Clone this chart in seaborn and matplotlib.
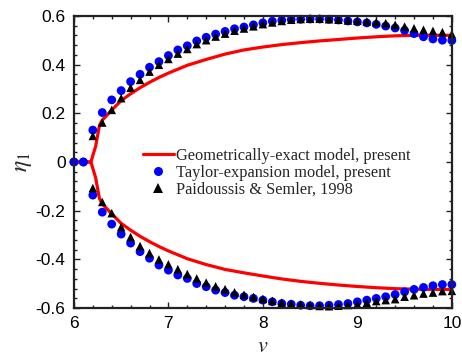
import numpy as np
import pandas as pd
import matplotlib
matplotlib.use("Agg")
import matplotlib.pyplot as plt
from matplotlib.ticker import MultipleLocator
from matplotlib.lines import Line2D
import seaborn as sns

# ---------------- data ----------------
v_pts = [round(6.0 + 0.1 * i, 1) for i in range(41)]

taylor_upper = [0.0, 0.0, 0.131, 0.203, 0.255, 0.293, 0.330, 0.360, 0.389, 0.412,
                0.437, 0.460, 0.477, 0.497, 0.512, 0.525, 0.536, 0.547, 0.554, 0.563,
                0.571, 0.578, 0.582, 0.585, 0.586, 0.587, 0.587, 0.586, 0.583, 0.579,
                0.575, 0.571, 0.565, 0.558, 0.550, 0.540, 0.527, 0.514, 0.505, 0.500, 0.499]
taylor_lower = [0.0, 0.0, -0.136, -0.206, -0.255, -0.296, -0.333, -0.368, -0.395, -0.423,
                -0.444, -0.464, -0.478, -0.499, -0.512, -0.526, -0.536, -0.547, -0.553, -0.560,
                -0.567, -0.574, -0.581, -0.584, -0.588, -0.590, -0.590, -0.588, -0.585, -0.581,
                -0.574, -0.567, -0.560, -0.553, -0.544, -0.533, -0.523, -0.515, -0.508, -0.503, -0.503]

v_tri = v_pts[2:]
paid_upper = [0.107, 0.162, 0.214, 0.262, 0.305, 0.337, 0.371, 0.399,
              0.423, 0.445, 0.464, 0.484, 0.500, 0.515, 0.527, 0.539, 0.548, 0.557,
              0.566, 0.573, 0.579, 0.584, 0.587, 0.588, 0.588, 0.586, 0.584, 0.581,
              0.580, 0.577, 0.574, 0.570, 0.563, 0.556, 0.549, 0.543, 0.538, 0.533, 0.525]
paid_lower = [-0.107, -0.164, -0.210, -0.267, -0.308, -0.345, -0.374, -0.400,
              -0.420, -0.440, -0.460, -0.478, -0.495, -0.510, -0.522, -0.535, -0.545, -0.554,
              -0.562, -0.570, -0.577, -0.582, -0.585, -0.587, -0.591, -0.592, -0.590, -0.587,
              -0.584, -0.578, -0.571, -0.567, -0.563, -0.553, -0.547, -0.540, -0.536, -0.530, -0.529]

v_geo = [6.0, 6.1, 6.18, 6.23, 6.27, 6.3, 6.4, 6.5, 6.6, 6.7, 6.8, 6.9, 7.0, 7.2, 7.4,
         7.6, 7.8, 8.0, 8.2, 8.4, 8.6, 8.8, 9.0, 9.2, 9.4, 9.6, 9.8, 10.0]
geo_upper = [0.0, 0.0, 0.0, 0.065, 0.150, 0.172, 0.213, 0.252, 0.280, 0.305, 0.327, 0.347,
             0.365, 0.397, 0.421, 0.443, 0.460, 0.472, 0.482, 0.490, 0.497, 0.503, 0.509,
             0.514, 0.518, 0.520, 0.520, 0.520]
geo_lower = [0.0, 0.0, 0.0, -0.065, -0.150, -0.172, -0.213, -0.252, -0.280, -0.305, -0.327,
             -0.347, -0.365, -0.397, -0.421, -0.441, -0.455, -0.468, -0.480, -0.490, -0.498,
             -0.505, -0.511, -0.516, -0.520, -0.522, -0.523, -0.523]

legend_labels = ["Geometrically-exact model, present",
                 "Taylor-expansion model, present",
                 "Paidoussis & Semler, 1998"]

# ---------------- plot ----------------
sns.set_style("ticks")
plt.rcParams["font.family"] = ["Liberation Sans", "DejaVu Sans"]
plt.rcParams["mathtext.fontset"] = "stix"

fig = plt.figure(figsize=(4.62, 3.60), dpi=100)
ax = fig.add_axes([0.160, 0.144, 0.818, 0.812])

df_geo_u = pd.DataFrame({"v": v_geo, "eta": geo_upper})
df_geo_l = pd.DataFrame({"v": v_geo, "eta": geo_lower})
df_tay = pd.DataFrame({"v": v_pts + v_pts, "eta": taylor_upper + taylor_lower})
df_pai = pd.DataFrame({"v": v_tri + v_tri, "eta": paid_upper + paid_lower})

sns.lineplot(data=df_geo_u, x="v", y="eta", color="#ff0000", lw=2.3, ax=ax,
             sort=False, estimator=None, zorder=2)
sns.lineplot(data=df_geo_l, x="v", y="eta", color="#ff0000", lw=2.3, ax=ax,
             sort=False, estimator=None, zorder=2)
sns.scatterplot(data=df_tay, x="v", y="eta", color="#0000ff", marker="o", s=40,
                edgecolor="none", ax=ax, zorder=3, clip_on=False)
sns.scatterplot(data=df_pai, x="v", y="eta", color="black", marker="^", s=38,
                edgecolor="none", ax=ax, zorder=4, clip_on=False)

ax.set_xlim(6, 10)
ax.set_ylim(-0.6, 0.6)
ax.xaxis.set_major_locator(MultipleLocator(1))
ax.xaxis.set_minor_locator(MultipleLocator(0.2))
ax.yaxis.set_major_locator(MultipleLocator(0.2))
ax.yaxis.set_minor_locator(MultipleLocator(0.04))
ax.xaxis.set_major_formatter(plt.FuncFormatter(lambda x, p: f"{x:g}"))
ax.yaxis.set_major_formatter(plt.FuncFormatter(lambda y, p: "0" if abs(y) < 1e-9 else f"{y:.1f}"))

for s in ax.spines.values():
    s.set_visible(True)
    s.set_linewidth(1.6)
    s.set_color("#222222")
    s.set_zorder(5)
ax.tick_params(which="both", direction="in", top=True, right=True, colors="#222222",
               labelcolor="black", labelsize=12.5, width=1.0)
ax.tick_params(which="major", length=4.5, pad=6)
ax.tick_params(which="minor", length=2.5)

ax.set_xlabel(r"$v$", fontsize=16, labelpad=3)
ax.set_ylabel(r"$\eta_1$", fontsize=17, labelpad=1)

handles = [Line2D([], [], color="#ff0000", lw=2.3),
           Line2D([], [], color="#0000ff", marker="o", ls="none", markersize=6.5, markeredgewidth=0),
           Line2D([], [], color="black", marker="^", ls="none", markersize=6.5, markeredgewidth=0)]
leg = ax.legend(handles, legend_labels, loc="upper left", bbox_to_anchor=(0.165, 0.57),
                frameon=False, prop={"family": "Liberation Serif", "size": 11.8},
                handlelength=1.9, handletextpad=0.1, labelspacing=0.05, borderaxespad=0)

fig.savefig("out.png", dpi=100)
